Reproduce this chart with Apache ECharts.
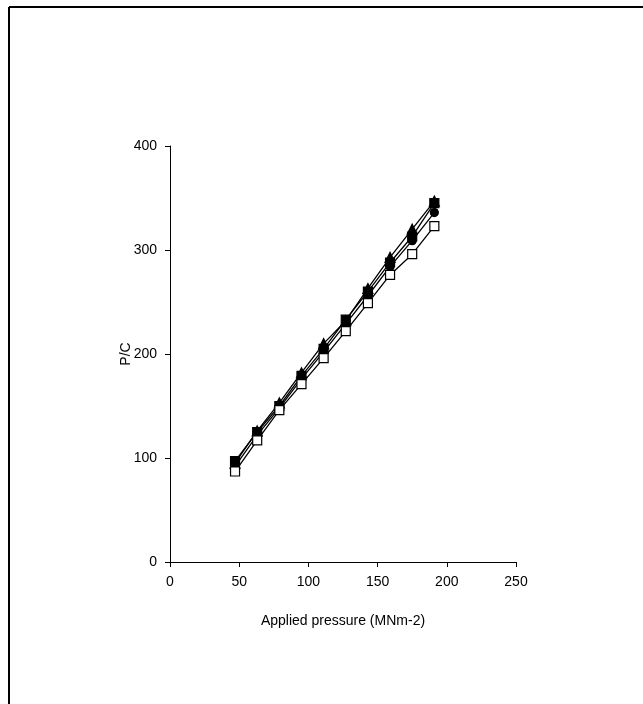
<!DOCTYPE html>
<html>
<head>
<meta charset="utf-8">
<script src="https://cdn.jsdelivr.net/npm/echarts@6/dist/echarts.min.js"></script>
<style>html,body{margin:0;padding:0;background:#fff;}#c{width:643px;height:704px;}</style>
</head>
<body>
<div id="c"></div>
<script>
var pressure = [47, 63, 79, 95, 111, 127, 143, 159, 175, 191];
var filledSquare = [97, 125, 150, 179, 205, 233, 260, 288, 313, 345];
var filledCircle = [92, 122, 148, 176, 202, 229, 256, 284, 309, 336];
var filledTriangle = [95, 126, 153, 182, 210, 232, 263, 293, 320, 347];
var openSquare = [87, 117, 146, 171, 196, 222, 249, 276, 296, 323];
var xTicks = [0, 50, 100, 150, 200, 250];
var yTicks = [0, 100, 200, 300, 400];

function pairs(ys) { return pressure.map(function (x, i) { return [x, ys[i]]; }); }
function mk(name, ys, symbol, fill, size) {
  return {
    name: name, type: 'line', data: pairs(ys), symbol: symbol, symbolSize: size,
    lineStyle: { color: '#000', width: 1.3 },
    itemStyle: { color: fill, borderColor: '#000', borderWidth: 1.2 },
    showAllSymbol: true, animation: false, z: 3
  };
}
var chart = echarts.init(document.getElementById('c'), null, { renderer: 'canvas' });
var font = 'Liberation Sans, Arial, sans-serif';
chart.setOption({
  backgroundColor: '#fff',
  animation: false,
  graphic: [
    { type: 'line', shape: { x1: 9, y1: 7, x2: 643, y2: 7 }, style: { stroke: '#000', lineWidth: 2 } },
    { type: 'line', shape: { x1: 9, y1: 7, x2: 9, y2: 704 }, style: { stroke: '#000', lineWidth: 2 } }
  ],
  grid: { left: 170, right: 127, top: 146, bottom: 142 },
  xAxis: {
    type: 'value', min: 0, max: 250, interval: 50,
    name: 'Applied pressure (MNm-2)', nameLocation: 'middle', nameGap: 52,
    nameMoveOverlap: false,
    nameTextStyle: { fontFamily: font, fontSize: 14, color: '#000' },
    axisLine: { lineStyle: { color: '#000', width: 1 } },
    axisTick: { show: true, inside: false, length: 5, lineStyle: { color: '#000' } },
    axisLabel: { fontFamily: font, fontSize: 14, color: '#000', margin: 13,
      formatter: function (v) { return xTicks.indexOf(v) >= 0 ? String(v) : ''; } },
    splitLine: { show: false }
  },
  yAxis: {
    type: 'value', min: 0, max: 400, interval: 100,
    name: 'P/C', nameLocation: 'middle', nameGap: 37, nameRotate: 90,
    nameMoveOverlap: false,
    nameTextStyle: { fontFamily: font, fontSize: 14, color: '#000' },
    axisLine: { show: true, lineStyle: { color: '#000', width: 1 } },
    axisTick: { show: true, inside: false, length: 5, lineStyle: { color: '#000' } },
    axisLabel: { fontFamily: font, fontSize: 14, color: '#000', margin: 13,
      formatter: function (v) { return yTicks.indexOf(v) >= 0 ? String(v) : ''; } },
    splitLine: { show: false }
  },
  series: [
    mk('Filled circle', filledCircle, 'circle', '#000', 8),
    mk('Filled triangle', filledTriangle, 'triangle', '#000', 10),
    mk('Filled square', filledSquare, 'rect', '#000', 9),
    mk('Open square', openSquare, 'rect', '#fff', 9)
  ]
});
</script>
</body>
</html>
